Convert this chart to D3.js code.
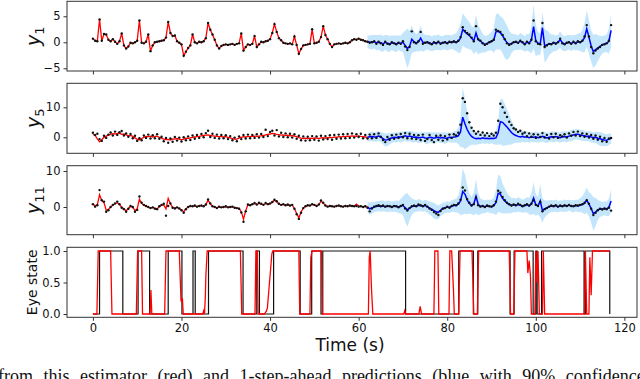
<!DOCTYPE html>
<html>
<head>
<meta charset="utf-8">
<script src="https://cdn.jsdelivr.net/npm/d3@7"></script>
<style>
  body { margin: 0; background: #fff; }
  svg { display: block; }
  text { font-family: "DejaVu Sans", sans-serif; }
</style>
</head>
<body>
<svg id="chart" width="640" height="379"></svg>
<script>
// sampling grid: 0 .. 117 s every 0.5 s (235 samples), estimate up to 62 s, predictions after
var tStep = 0.5;
var splitIdx = 124;   // index of t = 62 s

// ---- y1 ----
var y1Obs = [
  0.7,0.3,0.2,4.4,0.3,1.6,1.5,0.5,0.2,0.6,
  0.1,-0.3,0.2,1.7,-0.6,-1.2,-0.8,-0.1,-0.2,0.0,
  0.3,4.2,-0.1,-0.2,0.1,1.5,-1.7,-0.6,0.0,0.1,
  0.2,0.3,0.4,0.9,3.9,1.8,1.2,1.3,0.2,-0.1,
  -0.4,-2.6,-1.8,-1.1,-0.6,1.5,0.0,-0.2,0.1,0.0,
  0.2,0.8,3.7,2.4,1.5,0.5,-0.6,-1.2,-0.7,-0.5,
  -0.4,-0.5,-0.4,-0.3,-0.5,-0.3,-0.2,1.7,-1.6,-0.9,
  -0.4,-0.5,-0.3,1.2,-0.9,-0.4,0.1,0.0,0.2,0.3,
  0.6,1.8,3.5,2.0,0.8,0.4,-0.1,-0.2,-0.3,-0.2,
  -0.4,1.1,-0.5,-2.2,-1.3,-0.6,-0.5,-0.4,-0.3,2.5,
  -0.2,-0.1,0.1,1.0,3.1,1.4,0.6,-0.3,-0.9,-0.4,
  -0.3,-0.2,-0.3,-0.2,-0.1,-0.2,0.0,0.4,0.6,0.5,
  0.7,0.5,0.4,0.2,0.1,
  -0.1,0.0,0.2,-0.3,0.1,-0.2,-0.5,0.1,-0.3,-0.4,
  0.0,-0.2,-0.4,-0.1,-0.3,0.2,-0.8,-1.5,-0.9,2.1,
  0.0,-0.2,0.2,2.0,-0.3,-0.1,0.0,-0.2,-0.4,0.0,
  -0.2,0.1,-0.3,-0.1,0.0,-0.2,0.1,0.0,0.2,0.0,
  0.3,1.0,2.9,2.2,1.8,1.5,0.9,0.2,3.1,0.6,
  0.3,-0.2,-0.5,-0.3,0.0,0.2,0.5,2.4,2.2,2.0,
  1.4,0.6,-0.2,-0.5,-0.3,0.0,0.1,-0.1,0.3,0.0,
  -0.4,0.1,-0.2,0.5,4.2,0.2,-0.3,-0.4,3.7,-0.9,
  -0.6,-0.3,-0.4,-0.1,-0.3,0.0,0.7,-0.2,-0.4,-0.1,
  0.0,-0.3,0.1,-0.2,0.2,0.0,0.3,1.1,3.3,1.1,
  -0.9,-2.1,-1.6,-1.2,-0.9,-0.5,-0.4,-0.2,0.3,3.3
];
var y1Est = y1Obs.slice(0, splitIdx + 1);
var y1Pred = [
  0.1,0.0,0.0,0.1,-0.1,0.0,-0.1,-0.3,0.0,-0.2,-0.3,
  -0.1,-0.2,-0.3,-0.1,-0.2,0.0,-0.6,-1.2,-0.8,0.6,
  0.1,-0.1,0.1,0.8,0.0,-0.1,0.0,-0.1,-0.3,-0.1,
  -0.1,0.0,-0.2,-0.1,0.0,-0.1,0.0,0.0,0.1,0.0,
  0.2,0.8,2.5,2.0,1.6,1.3,0.8,0.3,1.8,0.5,
  0.2,-0.1,-0.4,-0.2,0.0,0.2,0.4,2.0,2.1,1.8,
  1.3,0.5,-0.1,-0.4,-0.2,0.0,0.0,-0.1,0.2,0.0,
  -0.3,0.0,-0.1,0.4,3.0,0.3,-0.2,-0.3,2.8,-0.7,
  -0.5,-0.3,-0.3,-0.1,-0.2,0.0,0.5,-0.1,-0.3,-0.1,
  0.0,-0.2,0.0,-0.1,0.1,0.0,0.2,0.9,2.6,1.0,
  -0.7,-1.8,-1.4,-1.1,-0.8,-0.5,-0.3,-0.2,0.2,2.3
];
var y1Band = [
  1.2,1.3,1.4,1.3,1.5,1.4,1.6,1.5,1.4,1.6,1.5,
  1.4,1.5,1.6,1.4,1.5,1.8,2.8,3.8,3.0,2.6,
  2.0,1.6,1.9,2.4,1.8,1.5,1.4,1.5,1.4,1.5,
  1.4,1.5,1.4,1.3,1.4,1.5,1.4,1.3,1.5,1.7,
  2.2,2.8,3.1,3.0,2.8,2.6,2.3,2.6,3.5,2.8,
  2.3,1.8,1.6,1.5,1.6,1.8,2.4,3.4,3.5,3.2,
  3.4,3.5,3.3,2.6,1.9,1.6,1.5,1.4,1.6,1.5,
  1.5,1.6,1.7,2.5,4.2,3.0,2.2,2.1,3.0,3.2,
  2.8,2.2,1.8,1.6,1.5,1.4,1.6,1.5,1.4,1.5,
  1.4,1.5,1.4,1.5,1.6,1.7,2.1,2.8,3.5,3.2,
  3.0,3.2,3.0,2.5,2.0,1.7,1.6,1.7,2.4,3.2
];

// ---- y5 ----
var y5Obs = [
  1.5,0.8,1.2,-0.6,-1.2,0.5,-0.2,0.9,1.6,0.6,
  1.9,0.8,1.7,2.1,0.6,1.3,0.2,1.1,-0.3,0.5,
  -1.2,-0.3,-1.0,0.6,-0.2,0.9,-0.4,0.7,-0.3,1.0,
  -0.5,0.2,-1.3,-0.2,-1.8,-0.4,-1.5,0.1,-1.1,-0.1,
  -1.4,0.0,-1.0,0.3,-0.9,0.6,-0.5,0.8,-0.2,1.1,
  0.0,1.4,2.2,0.1,1.2,-0.2,0.9,-0.4,0.8,-0.3,
  0.7,-0.6,0.4,-1.0,-0.1,-1.3,0.3,-0.6,0.8,-0.4,
  0.9,-0.3,0.8,-0.2,1.0,-0.1,1.1,0.1,2.5,0.4,
  1.8,2.2,0.6,2.4,0.3,1.5,0.1,1.3,0.0,1.2,
  -0.1,1.0,-0.5,0.5,-1.0,0.3,-1.1,0.2,-1.0,0.4,
  -0.8,0.3,-1.1,0.5,-0.7,0.4,-0.6,0.7,-0.8,0.8,
  -0.5,0.9,-0.4,1.0,-0.3,1.1,-0.2,1.3,-0.1,1.0,
  0.1,1.2,-0.3,0.8,-0.4,
  0.9,-0.3,1.0,-0.2,1.3,0.2,-0.9,-1.6,0.1,-0.8,
  0.7,-0.5,0.9,-0.2,1.1,0.0,1.4,-0.3,1.2,-0.4,
  0.8,-0.6,0.7,-0.9,0.9,-1.2,-0.6,0.8,-0.9,-1.6,
  0.5,-0.8,0.6,-1.1,0.4,-0.7,0.9,-0.2,1.0,0.6,
  1.5,4.2,13.0,11.8,8.0,5.0,3.2,2.1,1.2,1.9,
  0.8,1.6,0.6,1.4,0.4,1.2,0.6,1.5,5.5,11.2,
  10.0,8.2,6.8,5.2,4.1,3.0,2.6,1.8,2.2,1.2,
  1.6,0.4,1.3,0.2,1.0,-0.2,0.9,0.1,1.4,-0.1,
  0.8,-0.4,1.1,0.0,1.2,-0.2,0.7,0.3,1.0,-0.1,
  1.3,0.5,1.8,0.6,1.9,0.4,1.3,0.2,1.1,-0.1,
  0.8,-0.5,0.6,-0.8,0.2,-1.3,-0.2,-1.5,-0.4,-0.2
];
var y5Est = [
  1.0,0.6,-0.5,-1.5,-0.8,0.0,0.4,0.7,1.0,1.2,
  1.1,1.3,1.4,1.0,1.1,0.8,0.5,0.6,0.3,-0.2,
  -0.7,-0.8,-0.4,0.0,0.3,0.2,0.4,0.1,0.3,0.3,
  0.0,-0.3,-0.6,-0.8,-0.7,-0.9,-0.5,-0.6,-0.4,-0.6,
  -0.8,-0.6,-0.3,-0.4,-0.2,0.0,0.1,0.2,0.3,0.5,
  0.6,0.7,0.8,0.6,0.5,0.4,0.3,0.2,0.3,0.1,
  0.2,0.0,-0.2,-0.4,-0.6,-0.6,-0.3,0.0,0.2,0.1,
  0.3,0.2,0.3,0.4,0.3,0.4,0.5,0.6,0.8,1.0,
  1.1,1.3,1.2,1.0,0.9,0.7,0.8,0.6,0.7,0.5,
  0.6,0.4,0.2,-0.1,-0.3,-0.4,-0.3,-0.5,-0.3,-0.4,
  -0.2,-0.3,-0.4,-0.2,-0.1,-0.3,-0.1,0.0,-0.2,0.1,
  0.0,0.2,0.1,0.3,0.2,0.4,0.3,0.5,0.4,0.3,
  0.5,0.3,0.2,0.1,0.0
];
var y5Pred = [
  0.0,0.2,0.3,0.1,0.2,0.4,0.1,-0.4,-0.9,-0.8,-0.4,
  -0.2,0.0,-0.1,0.2,0.1,0.3,0.5,0.2,0.4,0.2,
  0.0,0.1,-0.2,-0.1,0.1,-0.2,-0.3,0.0,-0.1,-0.3,
  -0.1,0.0,-0.2,-0.1,-0.3,-0.2,0.0,-0.1,0.1,0.2,
  0.5,1.8,6.7,4.5,2.6,1.2,0.3,-0.2,-0.5,-0.3,
  -0.5,-0.2,-0.4,-0.3,-0.5,-0.3,-0.4,-0.2,1.5,5.2,
  5.0,4.2,3.4,2.5,1.6,1.0,0.6,0.3,0.1,0.3,
  0.0,0.2,-0.1,0.1,0.0,0.2,-0.1,0.0,0.3,0.1,
  -0.2,0.0,0.2,0.1,0.3,0.1,-0.1,0.2,0.3,0.1,
  0.4,0.6,0.8,1.0,1.0,0.8,0.6,0.5,0.3,0.4,
  0.1,-0.1,0.0,-0.3,-0.5,-0.7,-0.9,-1.0,-0.6,-0.4
];
var y5Band = [
  1.4,1.5,1.6,1.5,1.7,1.6,1.7,1.9,2.2,2.1,1.9,
  1.7,1.6,1.7,1.6,1.8,1.7,1.6,1.8,1.7,1.9,
  1.7,1.6,1.8,1.7,1.6,1.9,2.1,1.8,1.7,2.0,
  1.7,1.6,1.8,1.7,1.9,1.7,1.6,1.7,1.8,2.0,
  2.7,5.0,10.0,8.5,6.0,4.0,2.8,2.3,2.1,1.9,
  1.8,1.7,1.8,1.7,1.8,1.7,1.9,2.3,4.0,7.5,
  7.8,7.0,6.0,5.0,4.0,3.0,2.4,2.1,1.9,1.8,
  1.7,1.8,1.7,1.6,1.7,1.8,1.7,1.6,1.7,1.8,
  1.7,1.6,1.7,1.8,1.7,1.6,1.7,1.8,1.7,1.8,
  1.7,1.9,1.8,1.7,1.8,1.7,1.8,1.7,1.6,1.7,
  1.8,1.7,1.9,2.1,2.3,2.2,2.1,2.0,1.9,1.7
];

// ---- y11 ----
var y11Obs = [
  0.8,0.1,0.5,4.7,1.9,1.5,-1.3,-0.9,0.0,0.6,
  1.0,1.5,0.8,-0.2,-0.6,-1.3,-0.5,0.3,0.0,-1.3,
  -0.8,2.9,1.2,0.6,0.3,0.0,-0.3,-0.1,-0.5,-0.6,
  0.2,0.6,0.9,-2.4,0.3,1.0,-0.2,-0.4,-0.1,-0.4,
  -0.9,-1.6,-0.6,0.0,0.3,0.2,0.4,0.1,0.3,0.4,
  0.2,0.7,2.1,1.0,0.2,0.0,-0.3,0.1,-0.1,0.0,
  0.2,-0.1,0.0,0.1,-0.2,-0.3,-0.5,-1.5,-4.1,-1.2,
  0.7,0.5,0.8,1.1,0.7,1.2,0.9,0.6,1.1,0.8,
  1.0,1.4,2.0,1.6,0.9,0.6,0.8,0.5,0.7,0.4,
  0.6,-0.5,-2.0,-3.3,-1.6,-0.3,0.2,0.5,0.4,0.8,
  0.6,0.3,0.7,1.8,1.2,0.4,0.1,0.3,0.2,0.1,
  0.3,0.4,0.2,0.1,0.3,0.2,0.4,0.3,0.2,0.3,
  0.1,0.2,0.0,0.2,-0.2,
  -1.2,-0.4,0.1,0.3,0.5,0.2,0.4,0.1,0.3,0.2,
  0.0,0.3,0.2,-0.1,0.3,0.6,-0.4,-1.0,-0.3,0.2,
  0.4,0.2,0.7,0.5,0.2,0.6,0.1,-0.4,-0.8,-1.4,
  -1.8,-2.2,-1.1,-0.5,-0.3,0.1,-0.2,0.3,0.6,0.5,
  1.0,2.0,5.4,4.6,2.2,1.2,0.4,0.8,2.6,0.5,
  0.1,0.3,0.0,0.4,0.2,0.1,0.5,1.5,4.5,4.0,
  2.8,1.9,1.2,0.8,0.4,0.7,0.5,0.9,0.6,0.2,
  0.5,0.8,0.4,0.9,1.8,0.6,0.3,1.4,-1.2,-0.6,
  -0.3,0.1,0.4,0.2,0.5,0.1,0.4,0.2,0.5,0.3,
  0.6,0.3,0.2,0.5,0.4,0.6,0.8,1.2,1.9,0.9,
  -0.5,-2.2,-1.6,-0.9,-0.5,-0.7,-0.4,-0.6,-0.2,-1.0
];
var y11Est = [
  0.8,0.3,0.6,3.4,1.8,1.2,-0.9,-0.7,0.0,0.5,
  0.9,1.2,0.7,-0.1,-0.5,-1.1,-0.4,0.2,-0.1,-1.0,
  -0.5,2.2,1.0,0.5,0.2,0.0,-0.3,-0.1,-0.4,-0.5,
  0.1,0.5,0.6,-0.5,2.4,0.9,-0.1,-0.3,-0.1,-0.4,
  -0.8,-1.4,-0.5,0.0,0.2,0.2,0.3,0.1,0.3,0.3,
  0.2,0.6,1.9,0.9,0.2,0.0,-0.2,0.0,-0.1,0.0,
  0.1,-0.1,0.0,0.1,-0.2,-0.3,-0.4,-1.3,-3.4,-1.0,
  0.6,0.5,0.7,1.0,0.7,1.0,0.8,0.6,1.0,0.8,
  0.9,1.3,1.9,1.5,0.8,0.6,0.7,0.5,0.6,0.4,
  0.5,-0.4,-1.8,-3.0,-1.4,-0.3,0.2,0.4,0.4,0.7,
  0.6,0.3,0.6,1.6,1.1,0.4,0.1,0.3,0.2,0.1,
  0.3,0.3,0.2,0.1,0.3,0.2,0.3,0.3,0.2,0.8,
  0.3,0.2,0.1,0.2,0.0
];
var y11Pred = [
  0.0,-0.5,-0.3,0.0,0.2,0.3,0.2,0.3,0.1,0.2,0.2,
  0.1,0.2,0.2,0.0,0.2,0.4,-0.2,-0.8,-0.3,0.1,
  0.3,0.2,0.5,0.4,0.2,0.4,0.1,-0.3,-0.6,-1.0,
  -1.3,-1.5,-0.9,-0.4,-0.2,0.0,-0.1,0.2,0.4,0.4,
  0.8,1.7,4.3,3.6,2.0,1.0,0.4,0.9,3.0,0.7,
  0.2,0.2,0.1,0.3,0.2,0.1,0.4,1.2,3.8,3.5,
  2.4,1.7,1.1,0.7,0.4,0.6,0.4,0.7,0.5,0.2,
  0.4,0.6,0.3,0.8,2.5,0.6,0.3,1.7,-1.0,-0.5,
  -0.2,0.1,0.3,0.2,0.4,0.1,0.3,0.2,0.4,0.3,
  0.5,0.3,0.2,0.4,0.3,0.5,0.7,1.0,1.9,0.8,
  -0.4,-1.9,-1.4,-0.8,-0.5,-0.6,-0.4,-0.5,-0.1,1.7
];
var y11Band = [
  1.3,1.8,1.6,1.4,1.5,1.4,1.6,1.5,1.4,1.6,1.5,
  1.4,1.5,1.6,1.7,2.0,2.6,3.8,4.7,3.3,2.3,
  1.8,1.6,1.7,1.6,1.5,1.6,1.7,1.8,2.0,2.2,
  2.1,1.9,1.7,1.6,1.5,1.6,1.5,1.6,1.7,1.9,
  2.4,4.0,6.4,5.5,4.0,2.8,2.4,3.2,4.8,3.0,
  2.2,1.9,1.8,1.7,1.8,1.9,2.2,3.5,5.2,5.0,
  4.2,3.5,2.8,2.4,2.1,2.0,1.9,2.0,1.9,1.8,
  1.9,2.1,2.3,3.0,4.4,3.0,2.4,4.6,3.4,2.4,
  2.0,1.8,1.7,1.6,1.7,1.6,1.5,1.6,1.7,1.6,
  1.5,1.6,1.7,1.6,1.7,1.9,2.3,3.0,3.5,3.4,
  4.0,4.7,4.0,2.8,2.2,2.0,1.9,2.0,2.4,3.2
];

// ---- eye state ----
var eyeOn  = [1.5, 10.2, 17.0, 22.6, 26.1, 37.0, 40.8, 49.4, 51.9, 82.6, 86.9, 95.1, 100.0, 101.3, 111.2];
var eyeOff = [6.75, 12.8, 20.1, 23.1, 33.9, 37.6, 46.8, 51.5, 70.6, 85.9, 94.2, 99.4, 100.3, 110.9, 116.7];
var eyeEstT = [0,0.9,1.2,4.0,4.3,9.8,10.1,11.0,11.2,12.9,13.1,13.3,16.2,16.5,19.5,19.7,19.9,20.2,20.4,
  24.8,25.0,25.2,25.4,25.5,25.8,33.3,33.6,36.6,36.8,37.1,37.3,38.7,39.2,39.4,40.4,40.6,46.5,46.7,
  49.0,49.2,49.5,51.6,51.8,62.2,62.4,62.6,62.9,63.2,70.2,70.4,70.6,73.6,73.9,74.2,77.0,77.2,77.9,78.1,
  80.4,80.6,81.0,81.4,81.6,82.6,82.9,85.6,86.0,86.8,87.1,94.0,94.3,95.0,95.3,98.0,98.2,98.5,98.8,99.0,
  99.8,100.0,100.2,100.5,100.8,101.5,101.7,102.0,111.0,111.2,111.5,112.0,112.2,112.5,112.8,113.0,116.7];
var eyeEstV = [0,0,1,1,0,0,1,1,0,0,0.38,0,0,1,1,0.6,0.2,0.25,0,
  0,0.05,0,0.3,0.6,1,1,0,0,1,1,0,0,0.05,0.1,0.95,1,1,0,
  0,0.9,1,1,0,0,0.9,1,0.4,0,0,0.05,0,0,0.12,0,0,1,1,0,
  0,1,1,0.4,0,0,1,1,0,0,1,1,0,0,1,1,0.65,0.85,0.6,0,
  0,1,0.5,1,0,0,1,0,0,1,0,0,0.9,0.3,1,1,1];

var xTicks = [0, 20, 40, 60, 80, 100, 120];
var panels = [
  {name: "y1", sub: "1", top: 1.3, bottom: 71, dom: [-5.52, 7.88], ticks: [-5, 0, 5]},
  {name: "y5", sub: "5", top: 83.3, bottom: 153.3, dom: [-5.33, 18], ticks: [0, 10]},
  {name: "y11", sub: "11", top: 165.7, bottom: 234.7, dom: [-7.69, 11.47], ticks: [0, 10]},
  {name: "eye", top: 247.3, bottom: 317.3, dom: [-0.052, 1.059], ticks: [0, 0.5, 1]}
];
var series = {
  y1: {obs: y1Obs, est: y1Est, pred: y1Pred, band: y1Band},
  y5: {obs: y5Obs, est: y5Est, pred: y5Pred, band: y5Band},
  y11: {obs: y11Obs, est: y11Est, pred: y11Pred, band: y11Band}
};

var svg = d3.select("#chart");
var left = 67, right = 637;
var x = d3.scaleLinear().domain([-5.85, 122.85]).range([left, right]);
var tAt = function(i) { return i * tStep; };
var predT = function(i) { return (splitIdx + i) * tStep; };

panels.forEach(function(p, pi) {
  var y = d3.scaleLinear().domain(p.dom).range([p.bottom, p.top]);
  var g = svg.append("g");
  var clipId = "clip" + pi;
  svg.append("clipPath").attr("id", clipId).append("rect")
    .attr("x", left).attr("y", p.top).attr("width", right - left).attr("height", p.bottom - p.top);
  var plot = g.append("g").attr("clip-path", "url(#" + clipId + ")");

  if (p.name !== "eye") {
    var s = series[p.name];
    var area = d3.area()
      .x(function(d, i) { return x(predT(i)); })
      .y0(function(d, i) { return y(s.pred[i] - s.band[i]); })
      .y1(function(d, i) { return y(s.pred[i] + s.band[i]); });
    plot.append("path").datum(s.pred).attr("d", area)
      .attr("fill", "#87cefa").attr("fill-opacity", 0.5);

    var lineEst = d3.line().x(function(d, i) { return x(tAt(i)); }).y(function(d) { return y(d); });
    plot.append("path").datum(s.est).attr("d", lineEst)
      .attr("fill", "none").attr("stroke", "red").attr("stroke-width", 1.3);
    var linePred = d3.line().x(function(d, i) { return x(predT(i)); }).y(function(d) { return y(d); });
    plot.append("path").datum(s.pred).attr("d", linePred)
      .attr("fill", "none").attr("stroke", "blue").attr("stroke-width", 1.5);

    plot.append("g").selectAll("circle").data(s.obs).enter().append("circle")
      .attr("cx", function(d, i) { return x(tAt(i)); })
      .attr("cy", function(d) { return y(d); })
      .attr("r", 1.2).attr("fill", "#111");
  } else {
    // true eye state as a step line
    var pts = [[0, 0]];
    for (var k = 0; k < eyeOn.length; k++) {
      pts.push([eyeOn[k], 0], [eyeOn[k], 1], [eyeOff[k], 1], [eyeOff[k], 0]);
    }
    var stepLine = d3.line().x(function(d) { return x(d[0]); }).y(function(d) { return y(d[1]); });
    plot.append("path").datum(pts).attr("d", stepLine)
      .attr("fill", "none").attr("stroke", "#111").attr("stroke-width", 1.2);
    var est = eyeEstT.map(function(t, i) { return [t, eyeEstV[i]]; });
    plot.append("path").datum(est).attr("d", stepLine)
      .attr("fill", "none").attr("stroke", "red").attr("stroke-width", 1.3);
  }

  // axes
  var yAxis = d3.axisLeft(y).tickValues(p.ticks).tickSize(3.5).tickPadding(3)
    .tickFormat(p.name === "eye" ? d3.format(".1f") : d3.format("d"));
  var ya = g.append("g").attr("transform", "translate(" + left + ",0)").call(yAxis);
  var xAxis = d3.axisBottom(x).tickValues(xTicks).tickSize(3.5).tickPadding(3.5)
    .tickFormat(p.name === "eye" ? d3.format("d") : "");
  var xa = g.append("g").attr("transform", "translate(0," + p.bottom + ")").call(xAxis);
  [ya, xa].forEach(function(a) {
    a.select(".domain").remove();
    a.selectAll("line").attr("stroke", "#333");
    a.selectAll("text").attr("fill", "#111").style("font-size", "11.5px")
      .style("font-family", "'DejaVu Sans', sans-serif");
  });

  g.append("rect").attr("x", left).attr("y", p.top).attr("width", right - left)
    .attr("height", p.bottom - p.top).attr("fill", "none").attr("stroke", "#333").attr("stroke-width", 1);

  var cy = (p.top + p.bottom) / 2;
  if (p.name === "eye") {
    svg.append("text").attr("transform", "translate(37," + cy + ") rotate(-90)")
      .attr("text-anchor", "middle").style("font-size", "14px").attr("fill", "#111").text("Eye state");
  } else {
    var lab = svg.append("text").attr("transform", "translate(40," + cy + ") rotate(-90)")
      .attr("text-anchor", "middle").attr("fill", "#111");
    lab.append("tspan").style("font-size", "19px").style("font-style", "italic").text("y");
    lab.append("tspan").attr("dy", 4).style("font-size", "13px").text(p.sub);
  }
});

svg.append("text").attr("x", 350).attr("y", 351).attr("text-anchor", "middle")
  .style("font-size", "17px").attr("fill", "#111").text("Time (s)");

svg.append("text").attr("x", -2).attr("y", 382)
  .style("font-family", "'Liberation Serif', serif").style("font-size", "18px")
  .style("word-spacing", "6px").attr("fill", "#111")
  .text("from this estimator (red) and 1-step-ahead predictions (blue with 90% confidence");
</script>
</body>
</html>
